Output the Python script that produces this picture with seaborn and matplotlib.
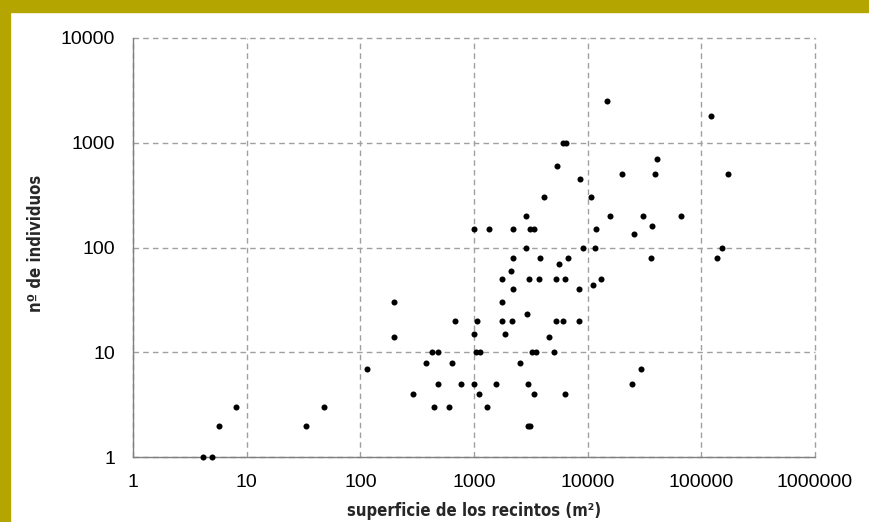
import matplotlib
matplotlib.use("Agg")
import matplotlib.pyplot as plt
import seaborn as sns
import pandas as pd
from matplotlib.ticker import FixedLocator, FixedFormatter, NullLocator

# superficie de los recintos (m2)
superficie = [
    4.1, 5, 5.7, 8, 33, 48, 115, 196, 196,
    2880, 990, 1350, 2210, 3080, 3390, 2860, 9150, 11500,
    2200, 3800, 6650, 5620, 2095, 1770, 3060, 3700, 5290, 6270, 13100,
    2200, 8430, 11200, 1770, 2940, 679, 1060, 1770, 2170, 5300, 6100, 8320,
    990, 1880, 4590, 423, 487, 1040, 1130, 3270, 3510, 5010,
    377, 639, 2540, 484, 776, 990, 1550, 2960, 288, 1096, 3390, 6310,
    446, 601, 1307, 3000, 3100,
    14700, 6070, 6490, 5400, 8490, 4120, 10760, 20000, 38800, 173000,
    15800, 30900, 66200, 11740, 120800, 41000, 36800, 25400, 153000,
    137000, 35800, 29200, 24400,
]
# nº de individuos
individuos = [
    1, 1, 2, 3, 2, 3, 7, 30, 14,
    200, 150, 150, 150, 150, 150, 100, 100, 100,
    80, 80, 80, 70, 60, 50, 50, 50, 50, 50, 50,
    40, 40, 44, 30, 23, 20, 20, 20, 20, 20, 20, 20,
    15, 15, 14, 10, 10, 10, 10, 10, 10, 10,
    8, 8, 8, 5, 5, 5, 5, 5, 4, 4, 4, 4,
    3, 3, 3, 2, 2,
    2500, 1000, 1000, 600, 450, 300, 300, 500, 500, 500,
    200, 200, 200, 150, 1800, 700, 160, 135, 100,
    80, 80, 7, 5,
]
x_ticks = [1, 10, 100, 1000, 10000, 100000, 1000000]
x_labels = ["1", "10", "100", "1000", "10000", "100000", "1000000"]
y_ticks = [1, 10, 100, 1000, 10000]
y_labels = ["1", "10", "100", "1000", "10000"]

df = pd.DataFrame({"superficie": superficie, "individuos": individuos})

sns.set_style("white")
plt.rcParams["font.family"] = ["Liberation Sans", "DejaVu Sans"]

fig = plt.figure(figsize=(8.69, 5.22), dpi=100)
fig.patch.set_facecolor("white")
gold = "#B5A500"
# gold frame on top and left
fig.patches.append(plt.Rectangle((0, 1 - 12 / 522), 1, 12 / 522, transform=fig.transFigure,
                                 color=gold, zorder=0))
fig.patches.append(plt.Rectangle((0, 0), 10 / 869, 1, transform=fig.transFigure,
                                 color=gold, zorder=0))

ax = fig.add_axes([133 / 869, (522 - 457.3) / 522, (815 - 133) / 869, (457.3 - 37.7) / 522])
ax.set_xscale("log")
ax.set_yscale("log")
ax.set_xlim(1, 1000000)
ax.set_ylim(1, 10000)

sns.scatterplot(data=df, x="superficie", y="individuos", ax=ax, color="black",
                s=19, linewidth=0, zorder=5, clip_on=False)

ax.xaxis.set_major_locator(FixedLocator(x_ticks))
ax.xaxis.set_major_formatter(FixedFormatter(x_labels))
ax.yaxis.set_major_locator(FixedLocator(y_ticks))
ax.yaxis.set_major_formatter(FixedFormatter(y_labels))
ax.xaxis.set_minor_locator(NullLocator())
ax.yaxis.set_minor_locator(NullLocator())

ax.grid(True, which="major", color="#A0A0A0", linestyle=(0, (4, 3)), linewidth=1)
ax.set_axisbelow(True)
for gl in ax.get_xgridlines() + ax.get_ygridlines():
    gl.set_clip_on(False)

for side in ["top", "right"]:
    ax.spines[side].set_visible(False)
for side in ["left", "bottom"]:
    ax.spines[side].set_color("#808080")
    ax.spines[side].set_linewidth(1)
    ax.spines[side].set_zorder(3)

ax.tick_params(axis="both", which="major", direction="out", length=5, width=1,
               color="#808080", labelsize=14, labelcolor="black")
ax.tick_params(axis="y", pad=8)
ax.tick_params(axis="x", pad=7)

label_font = dict(family=["DejaVu Sans", "Liberation Sans"], stretch="condensed",
                  weight="bold", size=12)
ax.set_xlabel("superficie de los recintos (m²)", **label_font)
ax.set_ylabel("nº de individuos", **label_font)
ax.xaxis.set_label_coords(0.5, -(511 - 457.3) / 419.6)
ax.yaxis.set_label_coords(-(133 - 36) / 682, (457.3 - 243) / 419.6)
ax.xaxis.label.set_va("center")
ax.yaxis.label.set_va("center")

fig.savefig("out.png", dpi=100, facecolor="white")
